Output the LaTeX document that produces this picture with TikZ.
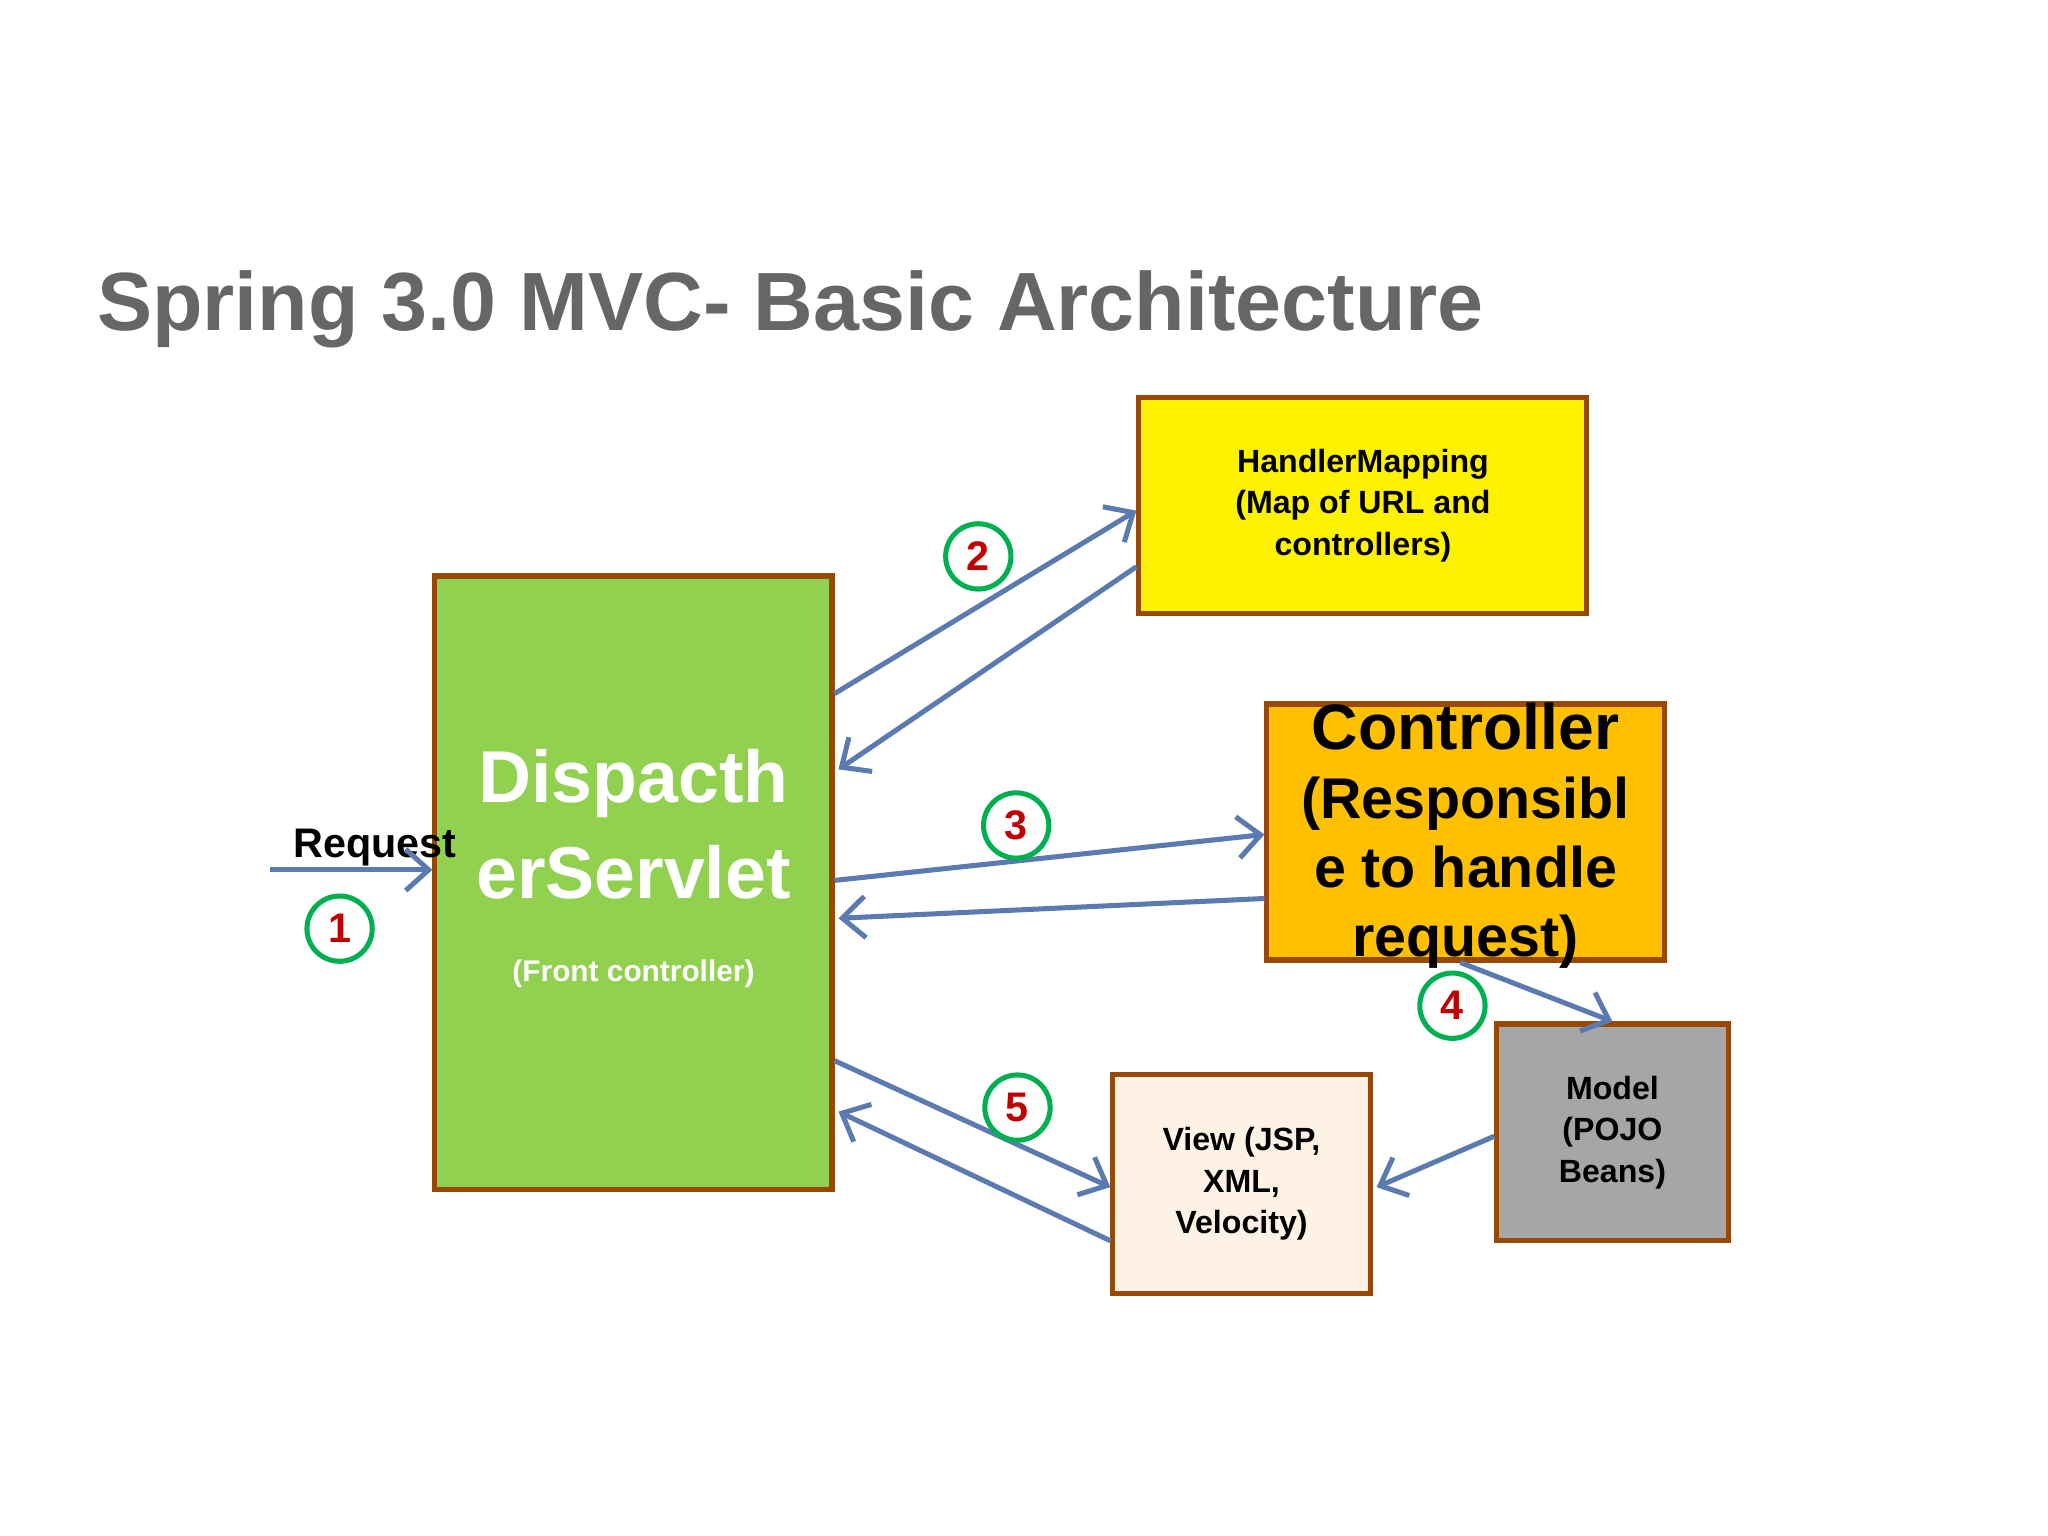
\documentclass[tikz,border=0pt]{standalone}
\usepackage{fontspec}
\setmainfont{Liberation Sans}
\usetikzlibrary{calc,arrows.meta}
\definecolor{boxedge}{HTML}{984807}
\definecolor{flow}{HTML}{5B7BB0}
\definecolor{stepring}{HTML}{00B050}
\definecolor{stepnum}{HTML}{C00000}
\tikzset{
  part/.style={draw=boxedge, line width=1.1pt, inner sep=2pt, align=center, font=\bfseries},
  link/.style={draw=flow, line width=1.1pt, -{Straight Barb[length=5pt,width=9pt]}},
  stepno/.style={circle, draw=stepring, line width=1.1pt, minimum size=0.5cm, inner sep=0pt,
    text=stepnum, font=\bfseries\fontsize{9}{9}\selectfont}
}
\begin{document}
\begin{tikzpicture}
\useasboundingbox (0,0) rectangle (15.68,-11.76);
\node (title) [anchor=west, text=black!60, font=\bfseries\fontsize{18}{20}\selectfont] at (0.62,-2.37)
  {Spring 3.0 MVC- Basic Architecture};
\node (disp) [part, fill={rgb,255:red,146;green,208;blue,80}, minimum width=3.04cm, minimum height=4.70cm] at (4.85,-6.76) {};
\node (dtext) [text=white, align=center, font=\bfseries\fontsize{16}{21}\selectfont] at (4.85,-6.65)
  {Dispacth\\erServlet\\[-3pt]{\fontsize{6.5}{8}\selectfont (Front controller)}};
\node (hmap) [part, fill=yellow, minimum width=3.43cm, minimum height=1.66cm,
  font=\bfseries\fontsize{7}{9}\selectfont] at (10.435,-3.87)
  {HandlerMapping\\(Map of URL and\\controllers)};
\node (ctrl) [part, fill={rgb,255:red,255;green,192;blue,0}, minimum width=3.04cm, minimum height=1.96cm] at (11.22,-6.37) {};
\node (ctext) [align=center, font=\bfseries\fontsize{12.5}{15}\selectfont] at (11.22,-6.4)
  {{\fontsize{14}{15}\selectfont Controller}\\(Responsibl\\e to handle\\request)};
\node (model) [part, fill={rgb,255:red,166;green,166;blue,166}, minimum width=1.77cm, minimum height=1.66cm,
  font=\bfseries\fontsize{7}{9}\selectfont] at (12.345,-8.67) {Model\\(POJO\\Beans)};
\node (view) [part, fill={rgb,255:red,253;green,242;blue,227}, minimum width=1.97cm, minimum height=1.67cm,
  font=\bfseries\fontsize{7}{9}\selectfont] at (9.505,-9.065) {View (JSP,\\XML,\\Velocity)};
\coordinate (client) at (2.07,-6.66);
\node (req) [font=\bfseries\fontsize{9}{10}\selectfont] at (2.87,-6.49) {Request};
% flows
\draw[link] (client) -- (disp.west |- client);
\draw[link] ($(disp.north east)+(0,-0.92)$) -- ($(hmap.south west)+(0,0.81)$);
\draw[link] ($(hmap.south west)+(0,0.38)$) -- ($(disp.north east)+(0.03,-1.50)$);
\draw[link] ($(disp.north east)+(0,-2.35)$) -- ($(ctrl.south west)+(0,0.98)$);
\draw[link] ($(ctrl.south west)+(0,0.49)$) -- ($(disp.north east)+(0.03,-2.64)$);
\draw[link] ($(ctrl.south west)+(1.5,0)$) -- (model.north);
\draw[link] ($(model.south west)+(0,0.82)$) -- ($(view.south east)+(0.03,0.83)$);
\draw[link] ($(disp.north east)+(0,-3.73)$) -- ($(view.south west)+(0,0.83)$);
\draw[link] ($(view.south west)+(0,0.42)$) -- ($(disp.north east)+(0.03,-4.12)$);
% numbers
\node (s1) [stepno] at (2.60,-7.11) {1};
\node (s2) [stepno] at (7.49,-4.26) {2};
\node (s3) [stepno] at (7.78,-6.32) {3};
\node (s4) [stepno] at (11.12,-7.70) {4};
\node (s5) [stepno] at (7.79,-8.48) {5};
\end{tikzpicture}
\end{document}
